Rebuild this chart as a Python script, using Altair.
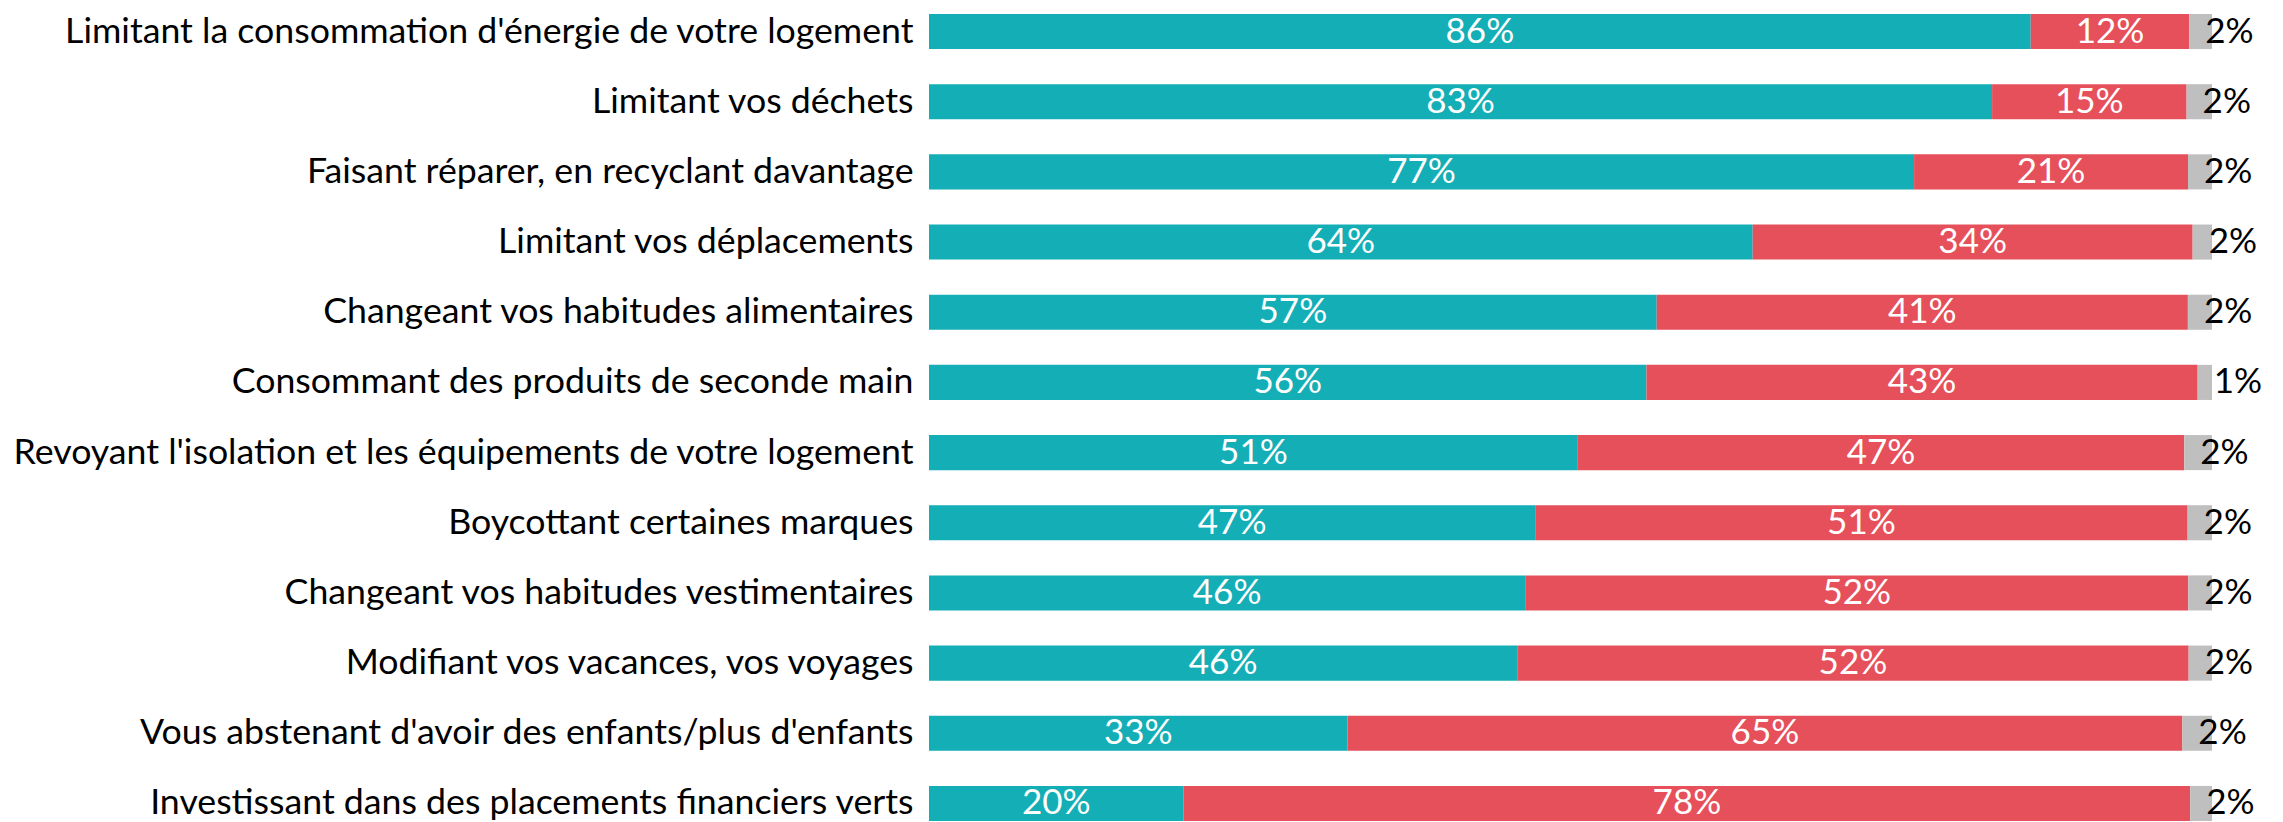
import altair as alt
import pandas as pd

categories = [
    "Limitant la consommation d'énergie de votre logement",
    "Limitant vos déchets",
    "Faisant réparer, en recyclant davantage",
    "Limitant vos déplacements",
    "Changeant vos habitudes alimentaires",
    "Consommant des produits de seconde main",
    "Revoyant l'isolation et les équipements de votre logement",
    "Boycottant certaines marques",
    "Changeant vos habitudes vestimentaires",
    "Modifiant vos vacances, vos voyages",
    "Vous abstenant d'avoir des enfants/plus d'enfants",
    "Investissant dans des placements financiers verts",
]
oui = [85.87, 82.86, 76.78, 64.20, 56.72, 55.92, 50.57, 47.25, 46.47, 45.85, 32.62, 19.85]
non = [12.36, 15.16, 21.35, 34.29, 41.40, 42.96, 47.27, 50.85, 51.68, 52.33, 65.07, 78.45]
nsp = [1.77, 1.98, 1.87, 1.51, 1.88, 1.12, 2.16, 1.90, 1.85, 1.82, 2.31, 1.70]

series = ["Oui", "Non", "NSP"]
colors = ["#14AEB6", "#E6505A", "#BFBFBF"]

rows = []
for i, c in enumerate(categories):
    for k, (s, vals) in enumerate(zip(series, [oui, non, nsp])):
        rows.append({"item": c, "serie": s, "value": vals[i], "order": k})
df = pd.DataFrame(rows)

FONT = "Lato"
FS = 35
AXFS = 35.7

base = alt.Chart(df).transform_stack(
    stack="value",
    groupby=["item"],
    as_=["x0", "x1"],
    sort=[alt.SortField("order", order="ascending")],
).transform_calculate(
    mid="(datum.x0 + datum.x1) / 2",
    lbl="format(datum.value, '.0f') + '%'",
)

yenc = alt.Y(
    "item:N",
    sort=categories,
    scale=alt.Scale(paddingInner=0.5, paddingOuter=0),
    axis=alt.Axis(
        title=None, ticks=False, domain=False, labelPadding=16,
        labelFont=FONT, labelFontSize=AXFS, labelColor="#000000",
        labelLimit=0,
    ),
)
xscale = alt.Scale(domain=[0, 100], nice=False, zero=True)

bars = base.mark_bar().encode(
    x=alt.X("x0:Q", scale=xscale, axis=None),
    x2="x1:Q",
    y=yenc,
    color=alt.Color("serie:N", scale=alt.Scale(domain=series, range=colors), legend=None),
)

inner = base.transform_filter("datum.serie != 'NSP'").mark_text(
    font=FONT, fontSize=FS, color="white", align="center", baseline="middle"
).encode(
    x=alt.X("mid:Q", scale=xscale, axis=None),
    y=alt.Y("item:N", sort=categories),
    text="lbl:N",
)

outer = base.transform_filter("datum.serie == 'NSP'").mark_text(
    font=FONT, fontSize=FS, color="black", align="left", baseline="middle", dx=16
).encode(
    x=alt.X("x0:Q", scale=xscale, axis=None),
    y=alt.Y("item:N", sort=categories),
    text="lbl:N",
)

chart = alt.layer(bars, inner, outer).properties(
    width=1283,
    height=807,
    padding={"left": 921, "right": 60, "top": 6, "bottom": 0},
    autosize=alt.AutoSizeParams(type="none"),
).configure_view(stroke=None)

chart.save("out.html", embed_options={"renderer": "svg", "actions": False})
